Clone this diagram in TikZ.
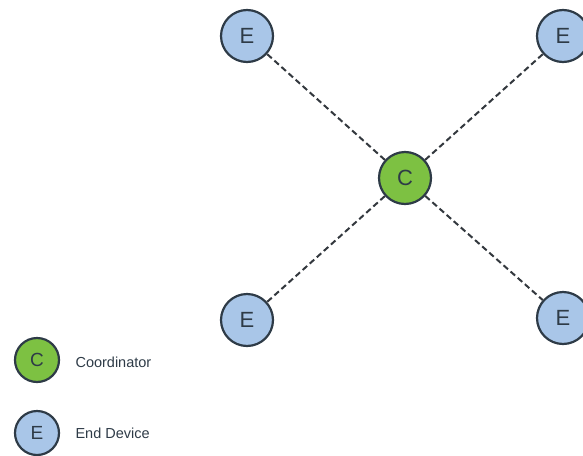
\documentclass[tikz,border=0pt]{standalone}
\usepackage{fontspec}
\setmainfont{Liberation Sans}
\definecolor{coordgreen}{HTML}{7DC142}
\definecolor{endblue}{HTML}{A9C6E8}
\definecolor{rimdark}{HTML}{2E3B47}
\definecolor{linkgray}{HTML}{33383E}
\tikzset{
  devnode/.style={circle, draw=rimdark, line width=2.2pt, inner sep=0pt,
    minimum size=52pt, text=rimdark, font=\fontsize{22}{22}\selectfont},
  coordnode/.style={devnode, fill=coordgreen},
  endnode/.style={devnode, fill=endblue},
  legendnode/.style={minimum size=44pt, font=\fontsize{19}{19}\selectfont},
  link/.style={draw=linkgray, line width=2pt, dash pattern=on 6pt off 3.5pt},
  legendtext/.style={anchor=west, text=rimdark, font=\fontsize{14.5}{14.5}\selectfont}
}
\begin{document}
\begin{tikzpicture}[x=1pt, y=-1pt]
  \useasboundingbox (0,0) rectangle (583,455);
  % star network
  \node[coordnode] (c) at (405,178) {C};
  \node[endnode] (e1) at (247,36) {E};
  \node[endnode] (e2) at (563,36) {E};
  \node[endnode] (e3) at (247,320) {E};
  \node[endnode] (e4) at (563,318) {E};
  \draw[link] (c) -- (e1);
  \draw[link] (c) -- (e2);
  \draw[link] (c) -- (e3);
  \draw[link] (c) -- (e4);
  % legend
  \node[coordnode, legendnode] (lc) at (37,360) {C};
  \node[endnode, legendnode] (le) at (37,433) {E};
  \node[legendtext] (lct) at (72,362) {Coordinator};
  \node[legendtext] (let) at (72,433) {End Device};
\end{tikzpicture}
\end{document}
